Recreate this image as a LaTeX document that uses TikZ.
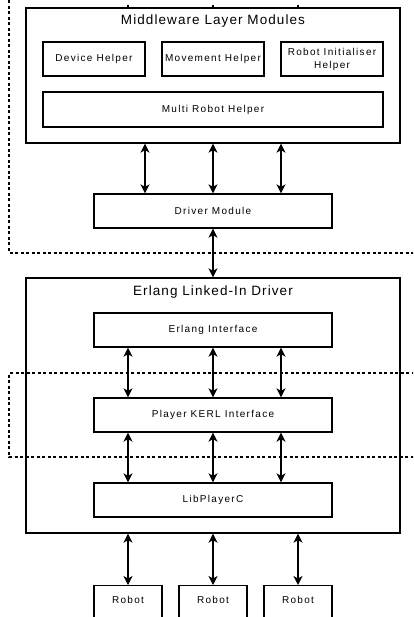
\documentclass[tikz,border=0pt]{standalone}
\usepackage{fontspec}
\setmainfont{Liberation Sans}
\newfontfamily\boxfont[LetterSpace=13]{Liberation Sans}
\newfontfamily\headfont[LetterSpace=8]{Liberation Sans}
\usetikzlibrary{arrows.meta}
\tikzset{
  block/.style={draw, line width=1.3pt, rectangle, inner sep=0pt,
    font=\boxfont\fontsize{10}{13}\selectfont, align=center},
  frame/.style={draw, line width=1.3pt, rectangle, inner sep=0pt},
  titletext/.style={inner sep=0pt, font=\headfont\fontsize{13.5}{15}\selectfont},
  link/.style={line width=1.3pt, {Stealth[length=9pt,width=9pt,inset=2.5pt]}-{Stealth[length=9pt,width=9pt,inset=2.5pt]}},
  stub/.style={line width=1.3pt},
  boundary/.style={line width=1.1pt, dash pattern=on 3pt off 2.5pt},
}
\begin{document}
\begin{tikzpicture}[x=1pt,y=-1pt]
\useasboundingbox (0,0) rectangle (413,617);
\clip (0,0) rectangle (413,617);

% dashed boundaries
\draw[boundary] (9,-5) -- (9,253) -- (420,253);
\draw[boundary] (420,373) -- (9,373) -- (9,457) -- (420,457);

% middleware layer
\node[frame, minimum width=374pt, minimum height=135pt] (mw) at (213,75.5) {};
\node[titletext] (mwt) at (213,21) {Middleware Layer Modules};
\node[block, minimum width=102pt, minimum height=34pt] (dev) at (94,59) {Device Helper};
\node[block, minimum width=102pt, minimum height=34pt] (mov) at (213,59) {Movement Helper};
\node[block, minimum width=102pt, minimum height=34pt] (rinit) at (332,59) {Robot Initialiser\\Helper};
\node[block, minimum width=340pt, minimum height=35pt] (multi) at (213,109.5) {Multi Robot Helper};

% driver module
\node[block, minimum width=238pt, minimum height=34pt] (drv) at (213,211) {Driver Module};

% erlang linked-in driver
\node[frame, minimum width=374pt, minimum height=255pt] (eld) at (213,405.5) {};
\node[titletext] (eldt) at (213,292) {Erlang Linked-In Driver};
\node[block, minimum width=238pt, minimum height=34pt] (ei) at (213,330) {Erlang Interface};
\node[block, minimum width=238pt, minimum height=34pt] (pk) at (213,415) {Player KERL Interface};
\node[block, minimum width=238pt, minimum height=34pt] (lpc) at (213,500) {LibPlayerC};

% robots
\tikzset{robot/.style={block, anchor=north, minimum width=68pt,
  text height=17.5pt, text depth=30pt}}
\node[robot] (r1) at (128,585) {Robot};
\node[robot] (r2) at (213,585) {Robot};
\node[robot] (r3) at (298,585) {Robot};

% stubs entering from above
\coordinate (t1) at (128,5);
\coordinate (t2) at (213,5);
\coordinate (t3) at (298,5);
\draw[stub] (t1) -- (mw.north -| t1);
\draw[stub] (t2) -- (mw.north -| t2);
\draw[stub] (t3) -- (mw.north -| t3);

% connectors
\foreach \x in {145,213,281}
  \draw[link] (mw.south -| \x,0) -- (drv.north -| \x,0);
\draw[link] (drv.south) -- (eld.north);
\foreach \x in {128,213,281}{
  \draw[link] (ei.south -| \x,0) -- (pk.north -| \x,0);
  \draw[link] (pk.south -| \x,0) -- (lpc.north -| \x,0);
}
\draw[link] (eld.south -| r1) -- (r1.north);
\draw[link] (eld.south -| r2) -- (r2.north);
\draw[link] (eld.south -| r3) -- (r3.north);
\end{tikzpicture}
\end{document}
